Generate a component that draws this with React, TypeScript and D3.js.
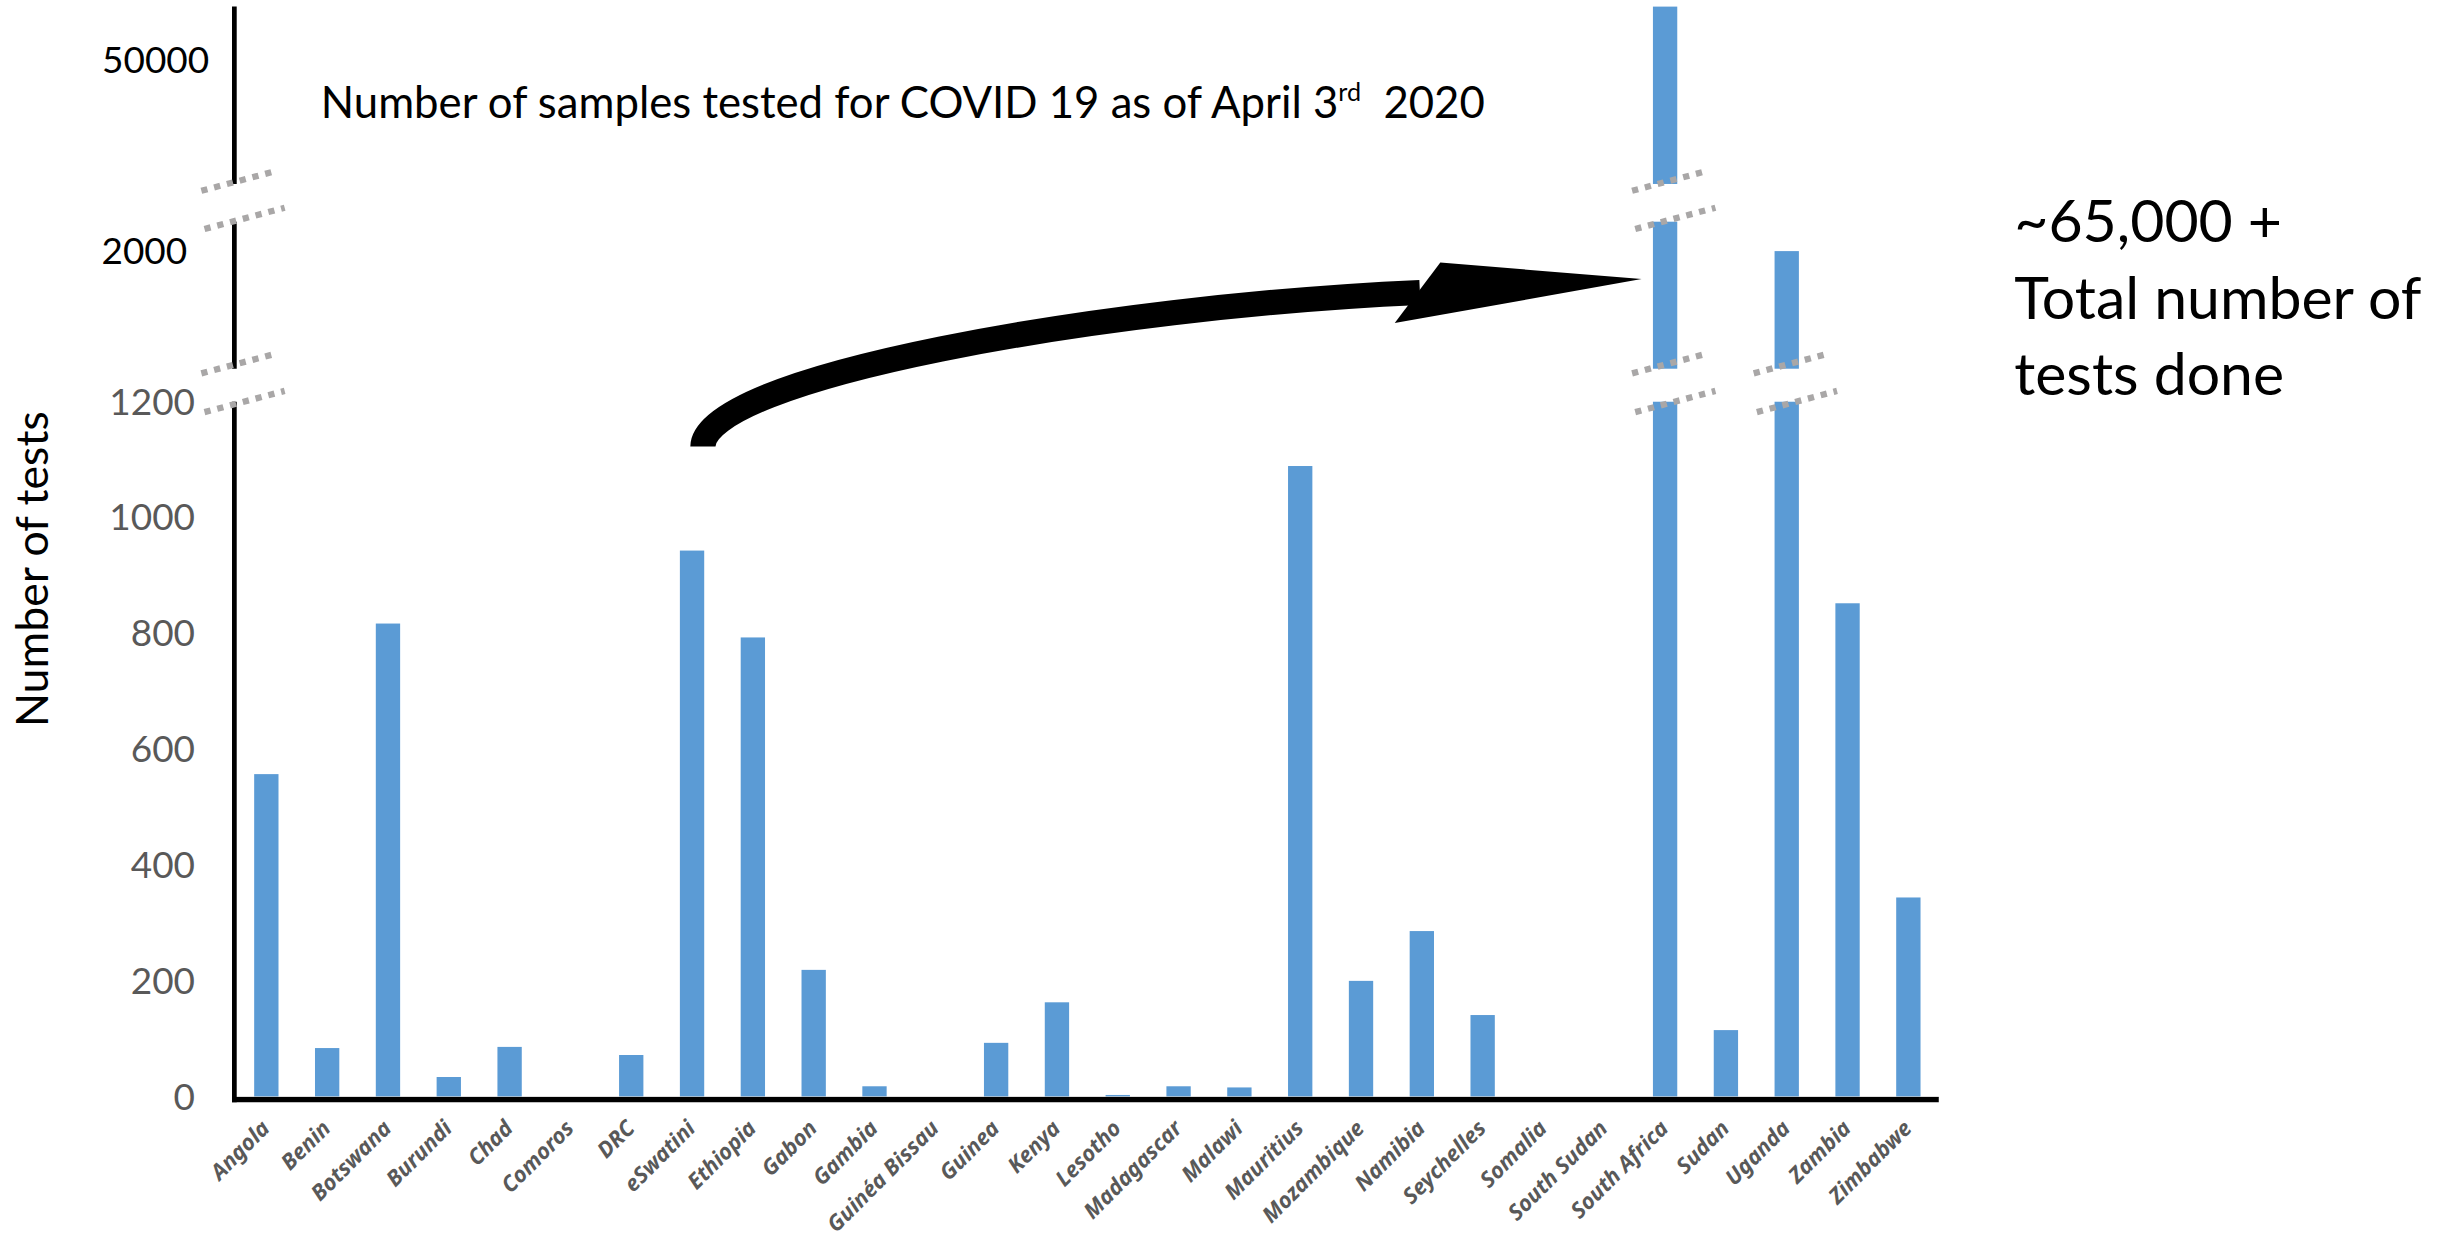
import React, { useEffect, useRef } from 'react';
import * as d3 from 'd3';

// Samples tested per country (as of April 3rd 2020)
const countries = [
  'Angola', 'Benin', 'Botswana', 'Burundi', 'Chad', 'Comoros', 'DRC', 'eSwatini',
  'Ethiopia', 'Gabon', 'Gambia', 'Guinéa Bissau', 'Guinea', 'Kenya', 'Lesotho',
  'Madagascar', 'Malawi', 'Mauritius', 'Mozambique', 'Namibia', 'Seychelles',
  'Somalia', 'South Sudan', 'South Africa', 'Sudan', 'Uganda', 'Zambia', 'Zimbabwe'
];
const tests = [
  557, 84, 817, 34, 86, 0, 72, 943,
  793, 219, 18, 0, 93, 163, 3,
  18, 16, 1089, 200, 286, 141,
  0, 0, 65000, 115, 2000, 852, 344
];
const lowTicks = [0, 200, 400, 600, 800, 1000, 1200];
const midTicks = [2000];
const topTicks = [50000];

const titleText = 'Number of samples tested for COVID 19 as of April 3';
const noteLines = ['~65,000 +', 'Total number of', 'tests done'];

const FONT = 'Lato, "Open Sans", sans-serif';
const LABEL_FONT = '"Noto Sans", "Open Sans", sans-serif';
const BAR = '#5b9bd5';
const GREY_TEXT = '#595959';
const BREAK = '#a9a7a7';

export default function App() {
  const svgRef = useRef<SVGSVGElement>(null);

  useEffect(() => {
    if (!svgRef.current) return;
    const svg = d3.select(svgRef.current);
    svg.selectAll('*').remove();

    const x = d3.scaleBand<string>()
      .domain(countries)
      .range([150, 1233])
      .paddingInner(0.6)
      .paddingOuter(0.3);

    // broken y axis: three linear pieces
    const yLow = d3.scaleLinear().domain([0, 1200]).range([697.5, 255.5]);
    const yMid = d3.scaleLinear().domain([1200, 2200]).range([234.5, 141]);
    const yTop = d3.scaleLinear().domain([15000, 65000]).range([117, 4.2]);
    const segments = [yLow, yMid, yTop];

    const axisX = 149;

    // Bars
    const g = svg.append('g');
    countries.forEach((c, i) => {
      const v = tests[i];
      segments.forEach(s => {
        const [d0, d1] = s.domain();
        if (v <= d0 && d0 > 0) return;
        if (v <= 0) return;
        const top = s(Math.min(v, d1));
        const bottom = s(d0);
        g.append('rect')
          .attr('x', x(c)!)
          .attr('width', x.bandwidth())
          .attr('y', top)
          .attr('height', bottom - top)
          .attr('fill', BAR);
      });
    });

    // thin grey baseline + thick black x axis
    svg.append('line')
      .attr('x1', axisX).attr('x2', 1233)
      .attr('y1', 697.8).attr('y2', 697.8)
      .attr('stroke', '#bfbfbf').attr('stroke-width', 0.8);
    svg.append('line')
      .attr('x1', axisX - 1.5).attr('x2', 1233)
      .attr('y1', 699.4).attr('y2', 699.4)
      .attr('stroke', '#000').attr('stroke-width', 3.4);

    // y axis pieces
    segments.forEach((s, i) => {
      const [r0, r1] = s.range();
      svg.append('line')
        .attr('x1', axisX).attr('x2', axisX)
        .attr('y1', i === 0 ? 701 : r0)
        .attr('y2', r1)
        .attr('stroke', '#000').attr('stroke-width', 3);
    });

    // break marks (dotted slanted lines)
    const breakYs = [115.8, 140.6, 231.9, 257.1];
    const drawBreak = (cx: number, cy: number, second: boolean) => {
      const l = second ? -19 : -21;
      const r = second ? 32 : 24;
      const slope = -0.265;
      svg.append('line')
        .attr('x1', cx + l).attr('y1', cy + l * slope)
        .attr('x2', cx + r).attr('y2', cy + r * slope)
        .attr('stroke', BREAK)
        .attr('stroke-width', 4)
        .attr('stroke-dasharray', '4 4.4');
    };
    breakYs.forEach((by, k) => drawBreak(axisX, by, k % 2 === 1));
    countries.forEach((c, i) => {
      const cx = x(c)! + x.bandwidth() / 2;
      if (tests[i] > yLow.domain()[1]) {
        drawBreak(cx, breakYs[2], false);
        drawBreak(cx, breakYs[3], true);
      }
      if (tests[i] > yMid.domain()[1]) {
        drawBreak(cx, breakYs[0], false);
        drawBreak(cx, breakYs[1], true);
      }
    });

    // y tick labels
    svg.append('g')
      .selectAll('text')
      .data(lowTicks)
      .enter()
      .append('text')
      .attr('x', 124)
      .attr('y', d => yLow(d))
      .attr('dy', '0.35em')
      .attr('text-anchor', 'end')
      .attr('font-family', FONT)
      .attr('font-size', 23.5)
      .attr('fill', GREY_TEXT)
      .text(d => d);
    midTicks.forEach(t => {
      svg.append('text')
        .attr('x', 119).attr('y', yMid(t)).attr('dy', '0.35em')
        .attr('text-anchor', 'end')
        .attr('font-family', FONT).attr('font-size', 23.5)
        .attr('fill', '#000')
        .text(t);
    });
    topTicks.forEach(t => {
      svg.append('text')
        .attr('x', 133).attr('y', yTop(t)).attr('dy', '0.35em')
        .attr('text-anchor', 'end')
        .attr('font-family', FONT).attr('font-size', 23.5)
        .attr('fill', '#000')
        .text(t);
    });

    // x labels
    svg.append('g')
      .selectAll('text')
      .data(countries)
      .enter()
      .append('text')
      .attr('transform', d => `translate(${x(d)! + x.bandwidth() / 2 + 3},718.5) rotate(-45)`)
      .attr('text-anchor', 'end')
      .attr('font-family', LABEL_FONT)
      .attr('font-size', 14)
      .attr('font-weight', 'bold')
      .attr('font-style', 'italic')
      .attr('fill', GREY_TEXT)
      .text(d => d);

    // y axis title
    svg.append('text')
      .attr('transform', 'translate(30.5,362) rotate(-90)')
      .attr('text-anchor', 'middle')
      .attr('font-family', FONT)
      .attr('font-size', 28.4)
      .attr('fill', '#000')
      .text('Number of tests');

    // chart title
    const title = svg.append('text')
      .attr('x', 204)
      .attr('y', 75.3)
      .attr('font-family', FONT)
      .attr('font-size', 27.8)
      .attr('fill', '#000')
      .style('white-space', 'pre');
    title.append('tspan').text(titleText);
    title.append('tspan').attr('dy', -11).attr('font-size', 16).text('rd');
    title.append('tspan').attr('dy', 11).text('  2020');

    // annotation text
    svg.append('g')
      .selectAll('text')
      .data(noteLines)
      .enter()
      .append('text')
      .attr('x', 1281)
      .attr('y', (d, i) => 154 + i * 48.7)
      .attr('font-family', FONT)
      .attr('font-size', 37.5)
      .attr('fill', '#000')
      .text(d => d);

    // curved arrow
    const p = d3.path();
    p.moveTo(447, 284);
    p.bezierCurveTo(447, 240, 700, 195, 903, 186);
    svg.append('path')
      .attr('d', p.toString())
      .attr('fill', 'none')
      .attr('stroke', '#000')
      .attr('stroke-width', 16);
    svg.append('path')
      .attr('d', 'M916,167 L1044,177.5 L887,205.5 Z')
      .attr('fill', '#000');
  }, []);

  return (
    <svg
      ref={svgRef}
      width={2453}
      height={1239}
      viewBox="0 0 1560 788"
      style={{ position: 'absolute', left: 0, top: 0, background: '#fff' }}
    />
  );
}
